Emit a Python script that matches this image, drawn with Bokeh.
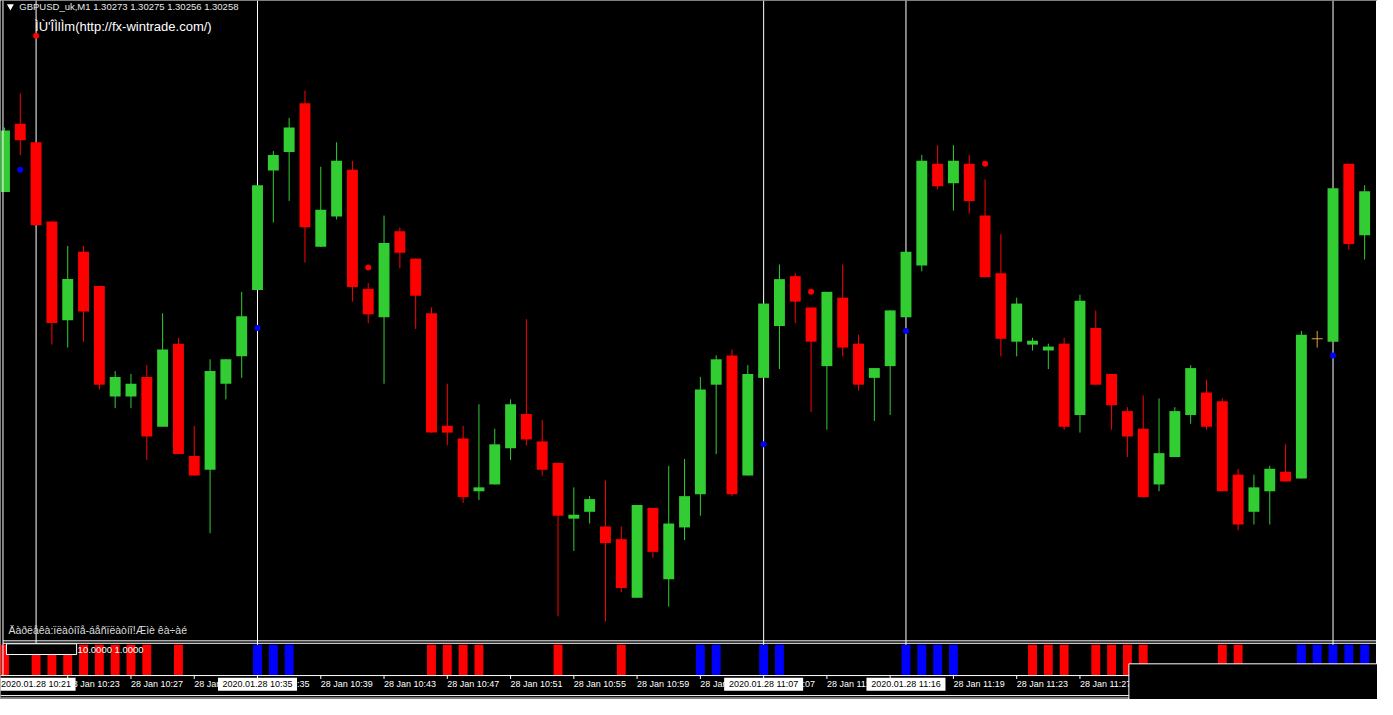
import numpy as np
from bokeh.plotting import figure
from bokeh.models import Range1d
from bokeh.core.properties import value
from bokeh.embed import file_html
from bokeh.resources import INLINE

# ---------------- data (GBPUSD_uk, M1, 28 Jan 2020, from 10:19) ----------------
opens = [1.30304, 1.30374, 1.30355, 1.30274, 1.30173, 1.30243, 1.30208, 1.30095, 1.30095, 1.30115,
         1.30064, 1.30149, 1.30034, 1.30020, 1.30108, 1.30136, 1.30204, 1.30326, 1.30345, 1.30395,
         1.30248, 1.30279, 1.30327, 1.30205, 1.30176, 1.30264, 1.30236, 1.30180, 1.30065, 1.30052,
         1.29998, 1.30005, 1.30042, 1.30077, 1.30049, 1.30027, 1.29970, 1.29977, 1.29962, 1.29949,
         1.29889, 1.29981, 1.29908, 1.29961, 1.29995, 1.30107, 1.30137, 1.30014, 1.30114, 1.30167,
         1.30218, 1.30186, 1.30126, 1.30196, 1.30149, 1.30114, 1.30126, 1.30176, 1.30229, 1.30333,
         1.30313, 1.30333, 1.30280, 1.30221, 1.30151, 1.30148, 1.30142, 1.30149, 1.30076, 1.30165,
         1.30118, 1.30080, 1.30062, 1.30005, 1.30033, 1.30076, 1.30099, 1.30090, 1.30015, 1.29977,
         1.29998, 1.30018, 1.30011, 1.30154, 1.30151, 1.30333, 1.30260]
highs = [1.30370, 1.30405, 1.30355, 1.30274, 1.30249, 1.30249, 1.30208, 1.30121, 1.30118, 1.30127,
         1.30180, 1.30155, 1.30065, 1.30133, 1.30133, 1.30202, 1.30311, 1.30346, 1.30380, 1.30408,
         1.30330, 1.30355, 1.30336, 1.30211, 1.30280, 1.30268, 1.30236, 1.30186, 1.30108, 1.30065,
         1.30087, 1.30062, 1.30092, 1.30174, 1.30071, 1.30027, 1.30002, 1.29993, 1.30009, 1.29962,
         1.29984, 1.29981, 1.30024, 1.30031, 1.30115, 1.30137, 1.30143, 1.30127, 1.30190, 1.30230,
         1.30221, 1.30186, 1.30202, 1.30230, 1.30158, 1.30124, 1.30183, 1.30243, 1.30342, 1.30352,
         1.30352, 1.30342, 1.30317, 1.30261, 1.30196, 1.30155, 1.30149, 1.30155, 1.30199, 1.30183,
         1.30118, 1.30084, 1.30096, 1.30093, 1.30084, 1.30127, 1.30112, 1.30093, 1.30021, 1.30015,
         1.30024, 1.30046, 1.30162, 1.30162, 1.30308, 1.30333, 1.30311]
lows = [1.30304, 1.30342, 1.30270, 1.30148, 1.30145, 1.30151, 1.30102, 1.30083, 1.30083, 1.30030,
        1.30064, 1.30036, 1.30014, 1.29955, 1.30092, 1.30114, 1.30204, 1.30273, 1.30295, 1.30232,
        1.30248, 1.30276, 1.30192, 1.30170, 1.30108, 1.30226, 1.30164, 1.30058, 1.30045, 1.29986,
        1.29989, 1.30005, 1.30030, 1.30045, 1.30014, 1.29870, 1.29937, 1.29965, 1.29865, 1.29895,
        1.29889, 1.29930, 1.29880, 1.29948, 1.29973, 1.30036, 1.29993, 1.30014, 1.30114, 1.30123,
        1.30170, 1.30079, 1.30061, 1.30136, 1.30101, 1.30070, 1.30076, 1.30176, 1.30223, 1.30307,
        1.30285, 1.30282, 1.30217, 1.30136, 1.30136, 1.30142, 1.30123, 1.30061, 1.30058, 1.30107,
        1.30061, 1.30033, 1.29992, 1.29998, 1.30033, 1.30067, 1.30061, 1.29998, 1.29958, 1.29964,
        1.29964, 1.30008, 1.30011, 1.30145, 1.30151, 1.30245, 1.30235]
closes = [1.30367, 1.30357, 1.30270, 1.30170, 1.30215, 1.30182, 1.30107, 1.30115, 1.30108, 1.30054,
          1.30143, 1.30036, 1.30014, 1.30121, 1.30133, 1.30177, 1.30311, 1.30342, 1.30370, 1.30268,
          1.30286, 1.30336, 1.30207, 1.30179, 1.30252, 1.30242, 1.30198, 1.30058, 1.30058, 1.29992,
          1.30002, 1.30046, 1.30087, 1.30051, 1.30020, 1.29973, 1.29974, 1.29990, 1.29945, 1.29899,
          1.29984, 1.29936, 1.29965, 1.29993, 1.30102, 1.30133, 1.29995, 1.30118, 1.30190, 1.30215,
          1.30192, 1.30151, 1.30202, 1.30145, 1.30107, 1.30124, 1.30183, 1.30243, 1.30336, 1.30310,
          1.30336, 1.30295, 1.30217, 1.30154, 1.30190, 1.30152, 1.30146, 1.30064, 1.30193, 1.30107,
          1.30086, 1.30054, 1.29992, 1.30037, 1.30080, 1.30124, 1.30064, 1.29998, 1.29964, 1.30002,
          1.30021, 1.30008, 1.30158, 1.30154, 1.30308, 1.30251, 1.30305]

# fractal-like markers
up_dot_idx = [2, 23, 51, 62]
up_dot_price = [1.30464, 1.30227, 1.30202, 1.30333]
down_dot_idx = [1, 16, 48, 57, 84]
down_dot_price = [1.30327, 1.30165, 1.30046, 1.30162, 1.30137]

# lower indicator window (signal bars)
red_signal_idx = [0, 2, 3, 4, 5, 6, 7, 8, 9, 11, 27, 28, 29, 30, 35, 39,
                  65, 66, 67, 69, 70, 71, 72, 77, 78]
blue_signal_idx = [16, 17, 18, 44, 45, 48, 49, 57, 58, 59, 60, 82, 83, 84, 85, 86]

# period separators and time labels (those hidden behind the bottom-right panel are omitted)
separator_idx = [2, 16, 48, 57, 84]
separator_label_idx = [2, 16, 48, 57]
separator_labels = ["2020.01.28 10:21", "2020.01.28 10:35", "2020.01.28 11:07",
                    "2020.01.28 11:16"]
tick_idx = [4, 8, 12, 16, 20, 24, 28, 32, 36, 40, 44, 48, 52, 56, 60, 64, 68, 72, 76, 80, 84]
tick_label_idx = [4, 8, 12, 16, 20, 24, 28, 32, 36, 40, 44, 48, 52, 56, 60, 64, 68]
tick_labels = ["28 Jan 10:23", "28 Jan 10:27", "28 Jan 10:31", "28 Jan 10:35", "28 Jan 10:39",
               "28 Jan 10:43", "28 Jan 10:47", "28 Jan 10:51", "28 Jan 10:55", "28 Jan 10:59",
               "28 Jan 11:03", "28 Jan 11:07", "28 Jan 11:11", "28 Jan 11:15", "28 Jan 11:19",
               "28 Jan 11:23", "28 Jan 11:27"]

title_text = "GBPUSD_uk,M1   1.30273 1.30275 1.30256 1.30258"
url_text = "ÌÙ'ÎÌlÌm(http://fx-wintrade.com/)"
footer_text = "Äàðëåêà:ïëàòíîå-áåñïëàòíî!Æìè êà÷àé"
ind_text = "10.0000 1.0000"

# ---------------- styles ----------------
GREEN = "#32CD32"
RED = "#FF0000"
BLUE = "#0000FF"
DOJI = "#E0A040"
WHITE = "#FFFFFF"
FONT = value("Liberation Sans")

W, H = 1377, 699
p = figure(width=W, height=H, output_backend="svg", toolbar_location=None,
           x_range=Range1d(-0.25, 86.8125), y_range=Range1d(1.29785, 1.30500),
           x_axis_location=None, y_axis_location=None,
           min_border=0, background_fill_color="black", border_fill_color="black",
           outline_line_color=None)
p.xgrid.visible = False
p.ygrid.visible = False
p.extra_x_ranges = {"px": Range1d(0, 1393)}
p.extra_y_ranges = {"px": Range1d(715, 0), "ind": Range1d(-25 / 31, 690 / 31)}

o = np.array(opens); h = np.array(highs); l = np.array(lows); c = np.array(closes)
idx = np.arange(len(o))
col = np.where(c > o, GREEN, np.where(c < o, RED, DOJI))

# period separators (behind candles)
p.segment(x0=separator_idx, y0=0, x1=separator_idx, y1=690, y_range_name="px",
          line_color=WHITE, line_width=1)

# wicks and bodies
p.segment(x0=idx, y0=h, x1=idx, y1=l, line_color=col, line_width=1)
inc = c > o
dec = c < o
dj = c == o
p.vbar(x=idx[inc], top=c[inc], bottom=o[inc], width=0.69, fill_color=GREEN, line_color=None)
p.vbar(x=idx[dec], top=o[dec], bottom=c[dec], width=0.69, fill_color=RED, line_color=None)
p.segment(x0=idx[dj] - 0.35, y0=o[dj], x1=idx[dj] + 0.35, y1=c[dj], line_color=DOJI, line_width=1)

# dots
p.scatter(x=up_dot_idx, y=up_dot_price, size=6, fill_color=RED, line_color=None)
p.scatter(x=down_dot_idx, y=down_dot_price, size=6, fill_color=BLUE, line_color=None)

# indicator window bars
p.vbar(x=red_signal_idx, top=1, bottom=0, width=0.5625, y_range_name="ind",
       fill_color=RED, line_color=None)
p.vbar(x=blue_signal_idx, top=1, bottom=0, width=0.5625, y_range_name="ind",
       fill_color=BLUE, line_color=None)

# window borders
p.segment(x0=[2.5, 1392, 2.5, 2.5, 0], y0=[0, 0, 655, 657.5, 690.5],
          x1=[2.5, 1392, 1392, 1392, 1393], y1=[690, 690, 655, 657.5, 690.5],
          x_range_name="px", y_range_name="px", line_color=WHITE, line_width=1)
p.segment(x0=[0, 0], y0=[711, 713.5], x1=[1142, 1142], y1=[711, 713.5],
          x_range_name="px", y_range_name="px", line_color=WHITE, line_width=1)

# indicator box and values
p.quad(left=[6], right=[77], top=[658], bottom=[669], x_range_name="px", y_range_name="px",
       fill_color="black", line_color=WHITE, line_width=1)
p.text(x=[78], y=[663.5], text=[ind_text], x_range_name="px", y_range_name="px",
       text_font=FONT, text_font_size="9.5px", text_color=WHITE,
       text_align="left", text_baseline="middle")

# title and texts
p.scatter(x=[10], y=[6], marker="inverted_triangle", size=7, fill_color=WHITE, line_color=None,
          x_range_name="px", y_range_name="px")
p.text(x=[19], y=[6.5], text=[title_text], x_range_name="px", y_range_name="px",
       text_font=FONT, text_font_size="9.5px", text_color="#E8E8E8",
       text_align="left", text_baseline="middle")
p.text(x=[35], y=[26.5], text=[url_text], x_range_name="px", y_range_name="px",
       text_font=FONT, text_font_size="13px", text_color=WHITE,
       text_align="left", text_baseline="middle")
p.text(x=[8], y=[644], text=[footer_text], x_range_name="px", y_range_name="px",
       text_font=FONT, text_font_size="10.5px", text_color="#DCDCDC",
       text_align="left", text_baseline="middle")

# time axis
p.segment(x0=tick_idx, y0=690, x1=tick_idx, y1=694, y_range_name="px",
          line_color=WHITE, line_width=1)
p.text(x=tick_label_idx, y=[699.5] * len(tick_label_idx), text=tick_labels, y_range_name="px",
       text_font=FONT, text_font_size="9px", text_color=WHITE,
       text_align="left", text_baseline="middle")
p.rect(x=separator_label_idx, y=[699.5] * len(separator_label_idx), width=79, height=13,
       width_units="screen", height_units="screen", y_range_name="px",
       fill_color=WHITE, line_color=None)
p.text(x=separator_label_idx, y=[699.5] * len(separator_label_idx), text=separator_labels,
       y_range_name="px", text_font=FONT, text_font_size="9px", text_color="black",
       text_align="center", text_baseline="middle")

# bottom-right box
p.quad(left=[1141.5], right=[1400], top=[678.5], bottom=[720], x_range_name="px",
       y_range_name="px", fill_color="black", line_color=WHITE, line_width=1)

open("out.html", "w").write(file_html(p, INLINE))
